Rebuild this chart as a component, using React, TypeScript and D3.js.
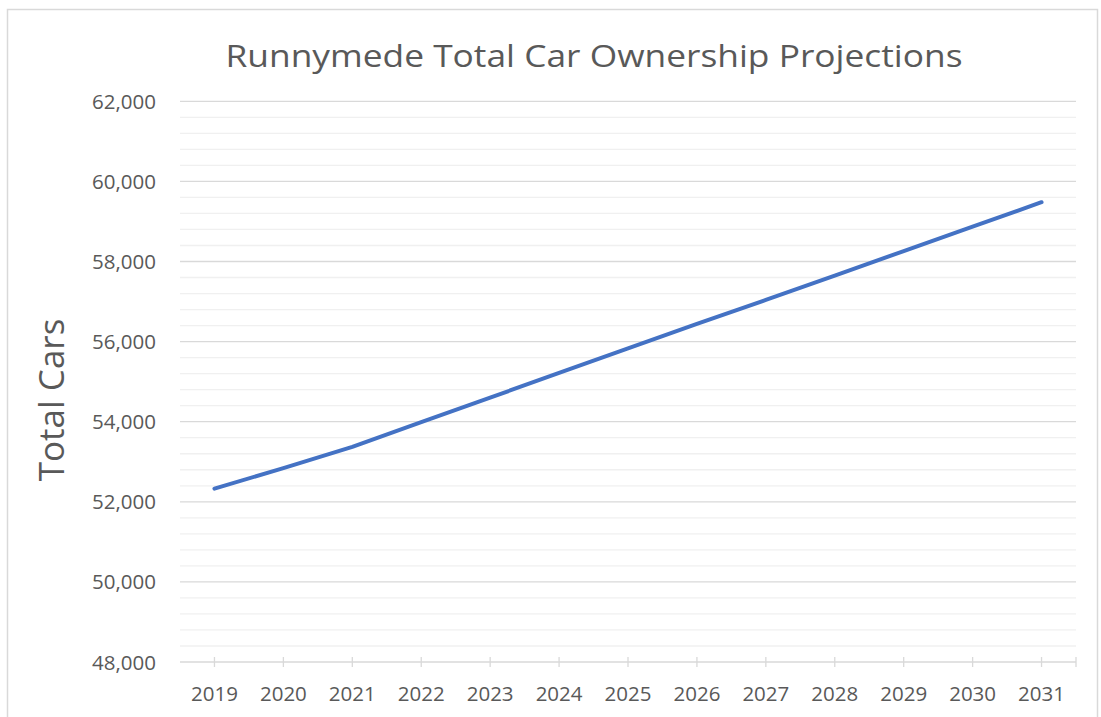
import React from "react";
import * as d3 from "d3";

const years: string[] = ["2019","2020","2021","2022","2023","2024","2025","2026","2027","2028","2029","2030","2031"];
const totalCars: number[] = [52330, 52840, 53370, 53990, 54600, 55220, 55830, 56440, 57040, 57650, 58260, 58870, 59480];
const yMajorTicks: number[] = [48000, 50000, 52000, 54000, 56000, 58000, 60000, 62000];
const chartTitle = "Runnymede Total Car Ownership Projections";
const yAxisTitle = "Total Cars";

export default function App() {
  const W = 1101, H = 717;
  const left = 180, right = 1076, top = 101.3, bottom = 662;
  const x = d3.scaleBand<string>().domain(years).range([left, right]);
  const y = d3.scaleLinear().domain([48000, 62000]).range([bottom, top]);
  const cx = (d: string) => (x(d) as number) + x.bandwidth() / 2;
  const minor = d3.range(48000, 62001, 400).filter((v) => v % 2000 !== 0);
  const line = d3.line<number>().x((_, i) => cx(years[i])).y((v) => y(v));
  const fmt = d3.format(",");
  const font = "'Open Sans', 'Liberation Sans', sans-serif";
  const textColor = "#595959";
  return (
    <svg width={W} height={H} style={{ position: "absolute", left: 0, top: 0, background: "#fff" }}>
      <rect x={7.5} y={9.5} width={1090} height={720} fill="#fff" stroke="#d9d9d9" strokeWidth={1.5} />
      <text x={594} y={67} textAnchor="middle" fontFamily={font} fontSize={31} fill={textColor}
        textLength={737} lengthAdjust="spacingAndGlyphs">{chartTitle}</text>
      {minor.map((v) => (
        <line key={"m" + v} x1={left} x2={right} y1={y(v)} y2={y(v)} stroke="#f0f0f0" strokeWidth={1.3} />
      ))}
      {yMajorTicks.map((v) => (
        <line key={"M" + v} x1={left} x2={right} y1={y(v)} y2={y(v)} stroke="#d9d9d9" strokeWidth={1.3} />
      ))}
      {years.map((d) => (
        <line key={"t" + d} x1={cx(d)} x2={cx(d)} y1={bottom - 5} y2={bottom + 5} stroke="#d9d9d9" strokeWidth={1.3} />
      ))}
      <line x1={right} x2={right} y1={bottom - 5} y2={bottom + 5} stroke="#d9d9d9" strokeWidth={1.3} />
      {yMajorTicks.map((v) => (
        <text key={"l" + v} x={156} y={y(v) + 7.5} textAnchor="end" fontFamily={font} fontSize={20.5} fill={textColor}>{fmt(v)}</text>
      ))}
      {years.map((d) => (
        <text key={"x" + d} x={cx(d)} y={701} textAnchor="middle" fontFamily={font} fontSize={20.5} fill={textColor}>{d}</text>
      ))}
      <text transform={`translate(64,400) rotate(-90)`} textAnchor="middle" fontFamily={font} fontSize={35} fill={textColor}>{yAxisTitle}</text>
      <path d={line(totalCars) || ""} fill="none" stroke="#4472C4" strokeWidth={4} strokeLinecap="round" strokeLinejoin="round" />
    </svg>
  );
}
